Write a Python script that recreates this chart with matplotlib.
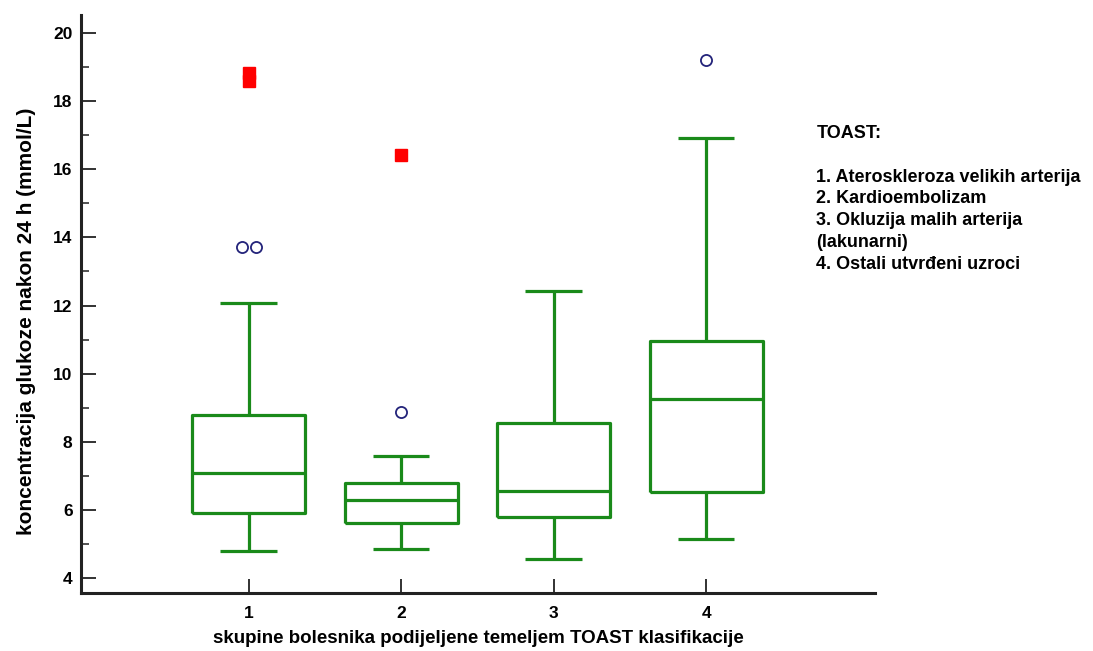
import matplotlib.pyplot as plt
from matplotlib.ticker import MultipleLocator

# TOAST groups and box statistics (mmol/L)
groups = [1, 2, 3, 4]
q1 = [5.90, 5.62, 5.80, 6.53]
median = [7.07, 6.28, 6.57, 9.25]
q3 = [8.78, 6.79, 8.55, 10.96]
whisk_lo = [4.80, 4.86, 4.55, 5.15]
whisk_hi = [12.08, 7.58, 12.42, 16.92]

# outside values (circles) and far-out values (red squares)
outside = [[13.72, 13.72], [8.88], [], [19.2]]
far_out = [[18.58, 18.82], [16.43], [], []]

legend_lines = [
    "TOAST:",
    "",
    "1. Ateroskleroza velikih arterija",
    "2. Kardioembolizam",
    "3. Okluzija malih arterija",
    "(lakunarni)",
    "4. Ostali utvrđeni uzroci",
]

GREEN = "#1a8a1a"
NAVY = "#23237a"

plt.rcParams["font.family"] = ["Liberation Sans", "DejaVu Sans"]
plt.rcParams["font.weight"] = "bold"

fig = plt.figure(figsize=(10.93, 6.51), dpi=100)
ax = fig.add_axes([0.074, 0.089, 0.727, 0.888])

stats = []
for i, g in enumerate(groups):
    stats.append({
        "q1": q1[i], "med": median[i], "q3": q3[i],
        "whislo": whisk_lo[i], "whishi": whisk_hi[i],
        "fliers": [], "label": str(g),
    })

line_kw = dict(color=GREEN, linewidth=2.3, solid_capstyle="butt")
ax.bxp(
    stats, positions=groups, widths=0.74, showfliers=False,
    boxprops=line_kw, medianprops=line_kw, whiskerprops=line_kw,
    capprops=line_kw, capwidths=0.37,
)

# equal values are drawn side by side
for g, vals in zip(groups, outside):
    for k, v in enumerate(vals):
        dup = [j for j, w in enumerate(vals) if w == v]
        off = (dup.index(k) - (len(dup) - 1) / 2) * 0.09 if len(dup) > 1 else 0
        ax.plot(g + off, v, "o", ms=8, mfc="none", mec=NAVY, mew=1.3, zorder=4)

for g, vals in zip(groups, far_out):
    for v in vals:
        ax.plot(g, v, "s", ms=8.5, mfc="#ff0000", mec="#ff0000", zorder=4)

ax.set_xlim(-0.1, 5.11)
ax.set_ylim(3.56, 20.53)
ax.set_xticks(groups)
ax.set_xticklabels([str(g) for g in groups])
ax.yaxis.set_major_locator(MultipleLocator(2))
ax.yaxis.set_minor_locator(MultipleLocator(1))
ax.set_yticks(range(4, 21, 2))

for s in ["top", "right"]:
    ax.spines[s].set_visible(False)
for s in ["left", "bottom"]:
    ax.spines[s].set_linewidth(2.2)
    ax.spines[s].set_color("#222222")

ax.tick_params(axis="y", which="major", direction="in", length=11, width=1.3,
               labelsize=12.5, pad=6, color="#222222")
ax.tick_params(axis="y", which="minor", direction="in", length=6, width=1.1,
               color="#222222")
ax.tick_params(axis="x", direction="in", length=10, width=1.3, labelsize=12.5,
               pad=9, color="#222222")

ax.set_ylabel("koncentracija glukoze nakon 24 h (mmol/L)", fontsize=15,
              fontweight="bold")
ax.yaxis.set_label_coords(-0.057, 0.47)
ax.set_xlabel("skupine bolesnika podijeljene temeljem TOAST klasifikacije",
              fontsize=13.5, fontweight="bold", labelpad=7)

fig.text(0.747, 0.808, "\n".join(legend_lines), fontsize=13, fontweight="bold",
         va="top", ha="left", linespacing=1.37)

fig.savefig("out.png", dpi=100)
